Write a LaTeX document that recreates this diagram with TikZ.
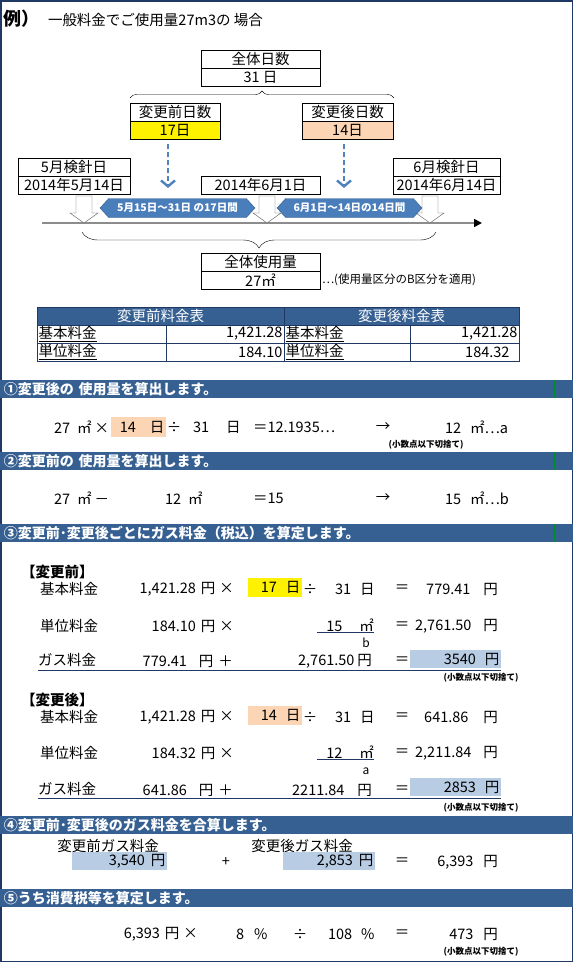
\documentclass[tikz,border=0pt]{standalone}
\usepackage{fontspec}
\setmainfont{Noto Sans CJK JP}
\usetikzlibrary{positioning,arrows.meta,shapes.arrows,decorations.pathreplacing}

\definecolor{barblue}{HTML}{366092}
\definecolor{navy}{HTML}{1F3864}
\definecolor{paleblue}{HTML}{B8CCE4}
\definecolor{peach}{HTML}{FCD5B4}
\definecolor{dashblue}{HTML}{4F81BD}
\definecolor{bandblue}{HTML}{4A7EBB}
\definecolor{bandline}{HTML}{385D8A}
\definecolor{markgreen}{HTML}{008A2E}

\newcommand\fbody{\fontsize{14.5}{16}\selectfont}
\newcommand\fnote{\bfseries\fontsize{8.5}{9}\selectfont}

\begin{document}
\begin{tikzpicture}[x=1pt, y=-1pt,
    every node/.style={inner sep=0pt, outer sep=0pt, font=\fbody},
    cell/.style={draw, minimum width=#1, minimum height=18pt},
    hdr/.style={anchor=north west, fill=barblue, text=white, font=\bfseries\fontsize{14}{16}\selectfont,
      text width=565pt, inner xsep=4pt, minimum height=18pt, align=left},
    tlab/.style={draw=navy, text width=#1, inner xsep=1.5pt, minimum height=18pt, align=left},
    tval/.style={draw=navy, text width=#1, inner xsep=1.5pt, minimum height=18pt, align=right},
    thead/.style={draw=navy, fill=barblue, text=white, minimum width=#1, minimum height=18pt},
    band/.style={shape=double arrow, double arrow head extend=0pt, double arrow tip angle=95,
      fill=bandblue, draw=bandline, text=white, font=\bfseries\fontsize{10.5}{11}\selectfont,
      minimum height=#1, minimum width=19pt},
    hit/.style={text width=#1, align=right, inner xsep=1.5pt, minimum height=19pt},
    bold/.style={anchor=west, font=\bfseries\fontsize{14.5}{16}\selectfont},
    note/.style={font=\fnote},
    dasharrow/.style={dashblue, line width=2.4pt, dash pattern=on 5pt off 3pt, -{Straight Barb[length=6pt, width=14pt]}},
    uline/.style={navy, line width=1.2pt},
    dbl/.style={navy, double, double distance=1.6pt, line width=0.7pt},
  ]
  \useasboundingbox (0,0) rectangle (573,962);
  \draw[navy, line width=3pt] (0,0) rectangle (573,962);

  % title
  \node[anchor=west, font=\bfseries\fontsize{18}{20}\selectfont] (ex) at (4,19) {例）};
  \node[anchor=west] (extitle) at (48,20) {一般料金でご使用量27m3の 場合};

  % days
  \node[cell=119pt] (tot) at (260.5,59) {全体日数};
  \node[cell=119pt, below=0pt of tot] (totd) {31 日};
  \node[cell=90pt] (pre) at (175,112) {変更前日数};
  \node[cell=90pt, fill=yellow, below=0pt of pre] (pred) {17日};
  \node[cell=91pt] (post) at (347.5,112) {変更後日数};
  \node[cell=91pt, fill=peach, below=0pt of post] (postd) {14日};
  \coordinate (bra) at (130,98);
  \coordinate (brb) at (394,98);
  \draw[decorate, decoration={brace, amplitude=7pt}] (bra) -- (brb);

  % meter reading days
  \node[cell=112pt] (may) at (74,167) {5月検針日};
  \node[cell=112pt, below=0pt of may] (mayd) {2014年5月14日};
  \node[cell=119pt] (jun1) at (260.5,185) {2014年6月1日};
  \node[cell=107pt] (jun) at (446.5,167) {6月検針日};
  \node[cell=107pt, below=0pt of jun] (jund) {2014年6月14日};

  \coordinate (pretip) at (168,188);
  \coordinate (posttip) at (344,188);
  \draw[dasharrow] ([yshift=-5pt]pred.south -| pretip) -- (pretip);
  \draw[dasharrow] ([yshift=-5pt]postd.south -| posttip) -- (posttip);

  \coordinate (tl0) at (42,223);
  \coordinate (tl1) at (482,223);
  \draw[line width=1.6pt, black!45, -{Triangle[color=black, length=8pt, width=8pt]}] (tl0) -- (tl1);
  \foreach \cx in {84,267,430}
    \draw[fill=white, draw=black!65] (\cx-8,196) -- (\cx+8,196) -- (\cx+8,213) -- (\cx+14,213)
      -- (\cx,223) -- (\cx-14,213) -- (\cx-8,213) -- cycle;
  \node[band=155pt] (span1) at (177.5,208) {5月15日～31日 の17日間};
  \node[band=145pt] (span2) at (349.5,208) {6月1日～14日の14日間};

  \coordinate (brc) at (82,232);
  \coordinate (brd) at (436,232);
  \draw[decorate, decoration={brace, mirror, amplitude=16pt}] (brc) -- (brd);
  \node[cell=119pt] (use) at (260.5,262) {全体使用量};
  \node[cell=119pt, below=0pt of use] (used) {27㎡};
  \node[anchor=west, font=\fontsize{11.5}{13}\selectfont] (usenote) at ([xshift=2pt]used.east) {⋯(使用量区分のB区分を適用)};

  % rate table
  \node[thead=247pt, anchor=north west] (th1) at (37,307) {変更前料金表};
  \node[thead=235pt, right=0pt of th1] (th2) {変更後料金表};
  \node[tlab=126pt, anchor=north west] (ta1) at (37,325) {\underline{基本料金}};
  \node[tval=115pt, right=0pt of ta1] (ta2) {1,421.28};
  \node[tlab=123pt, right=0pt of ta2] (ta3) {\underline{基本料金}};
  \node[tval=106pt, right=0pt of ta3] (ta4) {1,421.28};
  \node[tlab=126pt, below=0pt of ta1] (tb1) {\underline{単位料金}};
  \node[tval=115pt, right=0pt of tb1] (tb2) {184.10};
  \node[tlab=123pt, right=0pt of tb2] (tb3) {\underline{単位料金}};
  \node[tval=106pt, right=0pt of tb3] (tb4) {184.32\kern8pt};

  % step 1
  \node[hdr] (s1) at (0,380) {①変更後の 使用量を算出します。};
  \draw[markgreen, line width=1pt] ([xshift=554pt]s1.north west) -- ([xshift=554pt]s1.south west);
  \node[anchor=west] (c1a) at (54,427) {27\hspace{7pt}㎡\hspace{3pt}×};
  \node[fill=peach, hit=52pt, minimum height=20pt] (c1b) at (138.5,427) {14\hspace{14pt}日};
  \node (c1c) at (174,427) {÷};
  \node[anchor=west] (c1d) at (193,427) {31\hspace{17pt}日};
  \node[anchor=west] (c1e) at (253,427) {＝12.1935⋯};
  \node (c1f) at (383,427) {→};
  \node[anchor=west] (c1g) at (445,427) {12\hspace{9pt}㎡⋯a};
  \node[note] (c1n) at (426,445) {(小数点以下切捨て)};

  % step 2
  \node[hdr] (s2) at (0,452) {②変更前の 使用量を算出します。};
  \draw[markgreen, line width=1pt] ([xshift=554pt]s2.north west) -- ([xshift=554pt]s2.south west);
  \node[anchor=west] (c2a) at (54,498) {27\hspace{7pt}㎡\hspace{3pt}－};
  \node[anchor=west] (c2b) at (165,498) {12\hspace{7pt}㎡};
  \node[anchor=west] (c2c) at (253,498) {＝15};
  \node (c2d) at (383,498) {→};
  \node[anchor=west] (c2e) at (445,498) {15\hspace{9pt}㎡⋯b};

  % step 3
  \node[hdr] (s3) at (0,524) {③変更前･変更後ごとにガス料金（税込）を算定します。};
  \draw[markgreen, line width=1pt] ([xshift=554pt]s3.north west) -- ([xshift=554pt]s3.south west);

  \node[bold] (prehd) at (21,572) {【変更前】};
  \node[anchor=west] (p1a) at (40,589) {基本料金};
  \node[anchor=east] (p1b) at (234,589) {1,421.28\hspace{5pt}円\hspace{4pt}×};
  \node[fill=yellow, hit=51pt] (p1c) at (275,587.5) {17\hspace{9pt}日};
  \node (p1d) at (310,589) {÷};
  \node[anchor=west] (p1e) at (335,589) {31\hspace{9pt}日};
  \node (p1f) at (402,589) {＝};
  \node[anchor=east] (p1g) at (498,589) {779.41\hspace{13pt}円};

  \node[anchor=west] (p2a) at (40,626) {単位料金};
  \node[anchor=east] (p2b) at (234,626) {184.10\hspace{5pt}円\hspace{4pt}×};
  \node[anchor=east] (p2c) at (374,625) {15\hspace{17pt}㎡};
  \draw[uline] ([xshift=-9pt,yshift=-1pt]p2c.south west) -- ([yshift=-1pt]p2c.south east);
  \node[font=\fontsize{12}{13}\selectfont] (p2d) at (366,643) {b};
  \node (p2e) at (402,626) {＝};
  \node[anchor=east] (p2f) at (498,626) {2,761.50\hspace{12pt}円};

  \node[anchor=west] (p3a) at (38,661) {\underline{ガス料金}};
  \node[anchor=east] (p3b) at (233,661) {779.41\hspace{12pt}円\hspace{5pt}＋};
  \node[anchor=east] (p3c) at (372,661) {2,761.50\hspace{3pt}円};
  \node (p3d) at (402,661) {＝};
  \node[fill=paleblue, hit=88pt] (p3e) at (455.5,659.5) {3540\hspace{9pt}円};
  \draw[dbl] (p3e.south -| p3a.west) -- (p3e.south east);
  \node[note] (p3n) at (481,678) {(小数点以下切捨て)};

  \node[bold] (posthd) at (21,700) {【変更後】};
  \node[anchor=west] (q1a) at (40,717) {基本料金};
  \node[anchor=east] (q1b) at (234,717) {1,421.28\hspace{5pt}円\hspace{4pt}×};
  \node[fill=peach, hit=51pt] (q1c) at (275,715) {14\hspace{9pt}日};
  \node (q1d) at (310,717) {÷};
  \node[anchor=west] (q1e) at (335,717) {31\hspace{9pt}日};
  \node (q1f) at (402,717) {＝};
  \node[anchor=east] (q1g) at (498,717) {641.86\hspace{15pt}円};

  \node[anchor=west] (q2a) at (40,753) {単位料金};
  \node[anchor=east] (q2b) at (234,753) {184.32\hspace{5pt}円\hspace{4pt}×};
  \node[anchor=east] (q2c) at (374,752) {12\hspace{17pt}㎡};
  \draw[uline] ([xshift=-9pt,yshift=-1pt]q2c.south west) -- ([yshift=-1pt]q2c.south east);
  \node[font=\fontsize{12}{13}\selectfont] (q2d) at (366,771) {a};
  \node (q2e) at (402,753) {＝};
  \node[anchor=east] (q2f) at (498,753) {2,211.84\hspace{12pt}円};

  \node[anchor=west] (q3a) at (38,790) {\underline{ガス料金}};
  \node[anchor=east] (q3b) at (233,790) {641.86\hspace{12pt}円\hspace{5pt}＋};
  \node[anchor=east] (q3c) at (372,790) {2211.84\hspace{13pt}円};
  \node (q3d) at (402,790) {＝};
  \node[fill=paleblue, hit=88pt] (q3e) at (455.5,787.5) {2853\hspace{9pt}円};
  \draw[dbl] (q3e.south -| q3a.west) -- (q3e.south east);
  \node[note] (q3n) at (481,808) {(小数点以下切捨て)};

  % step 4
  \node[hdr] (s4) at (0,816) {④変更前･変更後のガス料金を合算します。};
  \node (m1) at (108,846) {変更前ガス料金};
  \node (m2) at (302,846) {変更後ガス料金};
  \node[fill=paleblue, hit=92pt, minimum height=18pt] (m3) at (119.5,861) {3,540\hspace{6pt}円};
  \node (m4) at (226,862) {+};
  \node[fill=paleblue, hit=89pt, minimum height=18pt] (m5) at (329,861) {2,853\hspace{6pt}円};
  \node (m6) at (402,862) {＝};
  \node[anchor=east] (m7) at (498,862) {6,393\hspace{10pt}円};

  % step 5
  \node[hdr] (s5) at (0,889) {⑤うち消費税等を算定します。};
  \node[anchor=east] (n1) at (198,934) {6,393\hspace{5pt}円\hspace{4pt}×};
  \node[anchor=west] (n2) at (236,934) {8\hspace{10pt}\%};
  \node (n3) at (300,934) {÷};
  \node[anchor=west] (n4) at (328,934) {108\hspace{9pt}\%};
  \node (n5) at (402,934) {＝};
  \node[anchor=east] (n6) at (498,934) {473\hspace{10pt}円};
  \node[note] (n7) at (481,952) {(小数点以下切捨て)};
\end{tikzpicture}
\end{document}
